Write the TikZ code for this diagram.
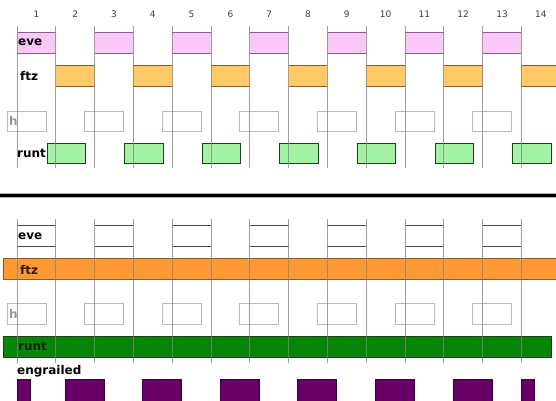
\documentclass[tikz,border=0pt]{standalone}
\usepackage{fontspec}
\setmainfont{DejaVu Sans}
\usepackage{tikz}

\definecolor{evepink}{HTML}{F9C8F8}
\definecolor{eveline}{HTML}{8C5C8C}
\definecolor{ftzlight}{HTML}{FFC966}
\definecolor{ftzdark}{HTML}{FF9933}
\definecolor{ftzline}{HTML}{8C5A28}
\definecolor{runtlight}{HTML}{A3F2A3}
\definecolor{runtdark}{HTML}{068506}
\definecolor{runtline}{HTML}{1E3F1E}
\definecolor{engpurple}{HTML}{660066}

\tikzset{
  tick/.style={gray, opacity=0.75, line width=0.8pt},
  hbox/.style={draw=gray!55, line width=0.8pt},
  sig/.style={font=\fontsize{12}{14}\selectfont\bfseries, anchor=west, inner sep=0pt},
  num/.style={font=\fontsize{9}{11}\selectfont, text=black!75, inner sep=0pt}
}

\begin{document}
\begin{tikzpicture}[x=1pt,y=-1pt]
    \useasboundingbox (0,0) rectangle (556,400);
    \fill[white] (0,0) rectangle (556,400);
    % top panel
    \foreach \k in {0,2,...,12} {
        \fill[evepink] (17+38.8*\k,32) rectangle ++(38.8,21);
        \draw[eveline, line width=0.9pt] (17+38.8*\k,32) -- ++(38.8,0);
        \draw[eveline, line width=0.9pt] (17+38.8*\k,53) -- ++(38.8,0);
      }
    \foreach \k in {1,3,...,13} {
        \fill[ftzlight] (17+38.8*\k,65) rectangle ++(38.8,21);
        \draw[ftzline, line width=0.9pt] (17+38.8*\k,65) -- ++(38.8,0);
        \draw[ftzline, line width=0.9pt] (17+38.8*\k,86) -- ++(38.8,0);
      }
    \foreach \j in {0,...,6} {
        \draw[hbox] (7+77.6*\j,111) rectangle ++(39,20);
        \draw[fill=runtlight, draw=runtline, line width=0.9pt] (47+77.6*\j,143) rectangle ++(38.5,20);
      }
    \foreach \k in {0,...,13} {
        \draw[tick] (17+38.8*\k,26) -- ++(0,142);
      }
    \foreach \k in {1,...,14} {
        \node[num] (n\k) at (17+38.8*\k-19.4,14) {\k};
      }
    \node[sig] (eveA) at (18,42) {eve};
    \node[sig] (ftzA) at (20,76) {ftz};
    \node[sig, text=gray!80] (hA) at (9,121) {h};
    \node[sig] (runtA) at (17,153) {runt};
    % separator
    \draw[gray!60, line width=5pt] (0,195.5) -- (556,195.5);
    \draw[black, line width=3pt] (0,195.5) -- (556,195.5);
    % bottom panel
    \foreach \k in {0,2,...,12} {
        \draw[black!70, line width=0.9pt] (17+38.8*\k,225) -- ++(38.8,0);
        \draw[black!70, line width=0.9pt] (17+38.8*\k,246) -- ++(38.8,0);
      }
    \draw[fill=ftzdark, draw=ftzline, line width=0.9pt] (3,258) rectangle (562,279);
    \foreach \j in {0,...,6} {
        \draw[hbox] (7+77.6*\j,303) rectangle ++(39,21);
      }
    \draw[fill=runtdark, draw=runtline, line width=0.9pt] (3,336) rectangle (551,357);
    \foreach \k in {0,...,13} {
        \draw[tick] (17+38.8*\k,219) -- ++(0,144);
      }
    \foreach \j in {0,...,5} {
        \draw[fill=engpurple, draw=engpurple!60!black, line width=0.8pt] (65+77.6*\j,379) rectangle ++(39,26);
      }
    \draw[fill=engpurple, draw=engpurple!60!black, line width=0.8pt] (17,379) rectangle (30,405);
    \draw[fill=engpurple, draw=engpurple!60!black, line width=0.8pt] (521.7,379) rectangle (534,405);
    \node[sig] (eveB) at (18,236) {eve};
    \node[sig, text=black!80!orange] (ftzB) at (20,270) {ftz};
    \node[sig, text=gray!80] (hB) at (9,314) {h};
    \node[sig, text=black!85!green] (runtB) at (18,346) {runt};
    \node[sig] (engB) at (17,371) {engrailed};
  \end{tikzpicture}
\end{document}
